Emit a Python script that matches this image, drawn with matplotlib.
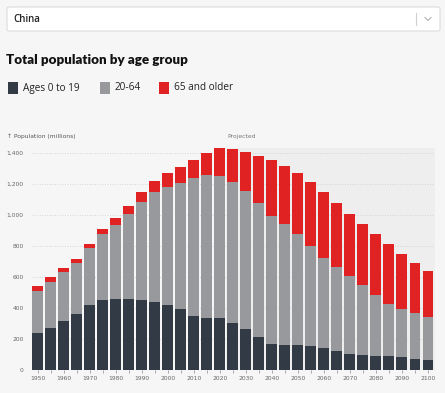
import matplotlib.pyplot as plt
from matplotlib.patches import Rectangle, FancyBboxPatch

# data (millions)
years = list(range(1950, 2101, 5))
ages_0_19 = [236, 273, 316, 361, 419, 453, 457, 459, 453, 436, 417, 393, 350, 337, 333,
             305, 262, 210, 170, 163, 161, 155, 140, 122, 105, 97, 92, 88, 84, 73, 67]
ages_20_64 = [273, 296, 313, 326, 365, 421, 475, 544, 631, 711, 764, 814, 885, 919, 919,
              908, 891, 864, 824, 780, 717, 642, 579, 539, 503, 450, 391, 337, 309, 296, 277]
ages_65_up = [32, 30, 28, 28, 30, 36, 45, 51, 63, 70, 86, 103, 115, 140, 176,
              208, 251, 307, 356, 371, 391, 414, 425, 413, 399, 393, 395, 389, 356, 322, 294]
projected_from = 2022.5

dark = "#323a46"
grey = "#98999c"
red = "#e12222"
bg = "#f6f6f6"

fig = plt.figure(figsize=(4.45, 3.93), dpi=100)
fig.patch.set_facecolor(bg)

# dropdown box
fig.patches.append(FancyBboxPatch((7 / 445, 1 - 31 / 393), 433 / 445, 24 / 393,
                                  boxstyle="round,pad=0,rounding_size=0.004",
                                  transform=fig.transFigure, facecolor="white",
                                  edgecolor="#dcdcdc", linewidth=0.8))
fig.text(13 / 445, 1 - 19 / 393, "China", fontsize=7, fontweight="semibold",
         family="Open Sans", color="#222222", va="center")
fig.add_artist(plt.Line2D([416 / 445, 416 / 445], [1 - 13 / 393, 1 - 25 / 393],
                          transform=fig.transFigure, color="#d0d0d0", lw=0.8))
fig.add_artist(plt.Line2D([425 / 445, 428 / 445, 431 / 445],
                          [1 - 17.5 / 393, 1 - 20.5 / 393, 1 - 17.5 / 393],
                          transform=fig.transFigure, color="#b0b0b0", lw=0.8))

# title
fig.text(6 / 445, 1 - 60 / 393, "Total population by age group", fontsize=9.6,
         fontweight="heavy", family="Lato", color="#121212", va="center")

# legend
legend_items = [("Ages 0 to 19", dark, 8), ("20-64", grey, 100), ("65 and older", red, 159)]
for label, col, x0 in legend_items:
    fig.patches.append(Rectangle((x0 / 445, 1 - 94 / 393), 10 / 445, 12 / 393,
                                 transform=fig.transFigure, facecolor=col, edgecolor="none"))
    fig.text((x0 + 15) / 445, 1 - 88 / 393, label, fontsize=7.2, family="Open Sans",
             color="#222222", va="center")

fig.text(7 / 445, 1 - 136 / 393, "\u2191 Population (millions)", fontsize=4.3,
         family="DejaVu Sans", color="#555555", va="center")

ax = fig.add_axes([32 / 445, 1 - 370 / 393, 403 / 445, 222 / 393])
ax.set_facecolor(bg)
ax.set_xlim(1947.8, 2102.7)
ax.set_ylim(0, 1430)

ax.axvspan(projected_from, 2102.7, color="#eeeeee", zorder=0, lw=0)
ax.text(projected_from + 0.5, 1505, "Projected", fontsize=4.3, color="#777777",
        va="center", ha="left")

for yv in range(200, 1401, 200):
    ax.axhline(yv, color="#cccccc", lw=0.6, ls=(0, (1, 2)), zorder=1)

b1 = [a + b for a, b in zip(ages_0_19, ages_20_64)]
ax.bar(years, ages_0_19, width=4.2, color=dark, zorder=2)
ax.bar(years, ages_20_64, bottom=ages_0_19, width=4.2, color=grey, zorder=2)
ax.bar(years, ages_65_up, bottom=b1, width=4.2, color=red, zorder=2)

ax.set_yticks(range(0, 1401, 200))
ax.set_yticklabels([f"{v:,}" for v in range(0, 1401, 200)], fontsize=4.3, color="#666666")
ax.set_xticks(years)
ax.set_xticklabels([str(y) if y % 10 == 0 else "" for y in years], fontsize=4.3,
                   color="#666666")
ax.tick_params(axis="y", length=0, pad=6)
ax.tick_params(axis="x", length=2, width=0.5, color="#888888", pad=2)
for s in ax.spines.values():
    s.set_visible(False)

fig.savefig("out.png", dpi=100, facecolor=bg)
